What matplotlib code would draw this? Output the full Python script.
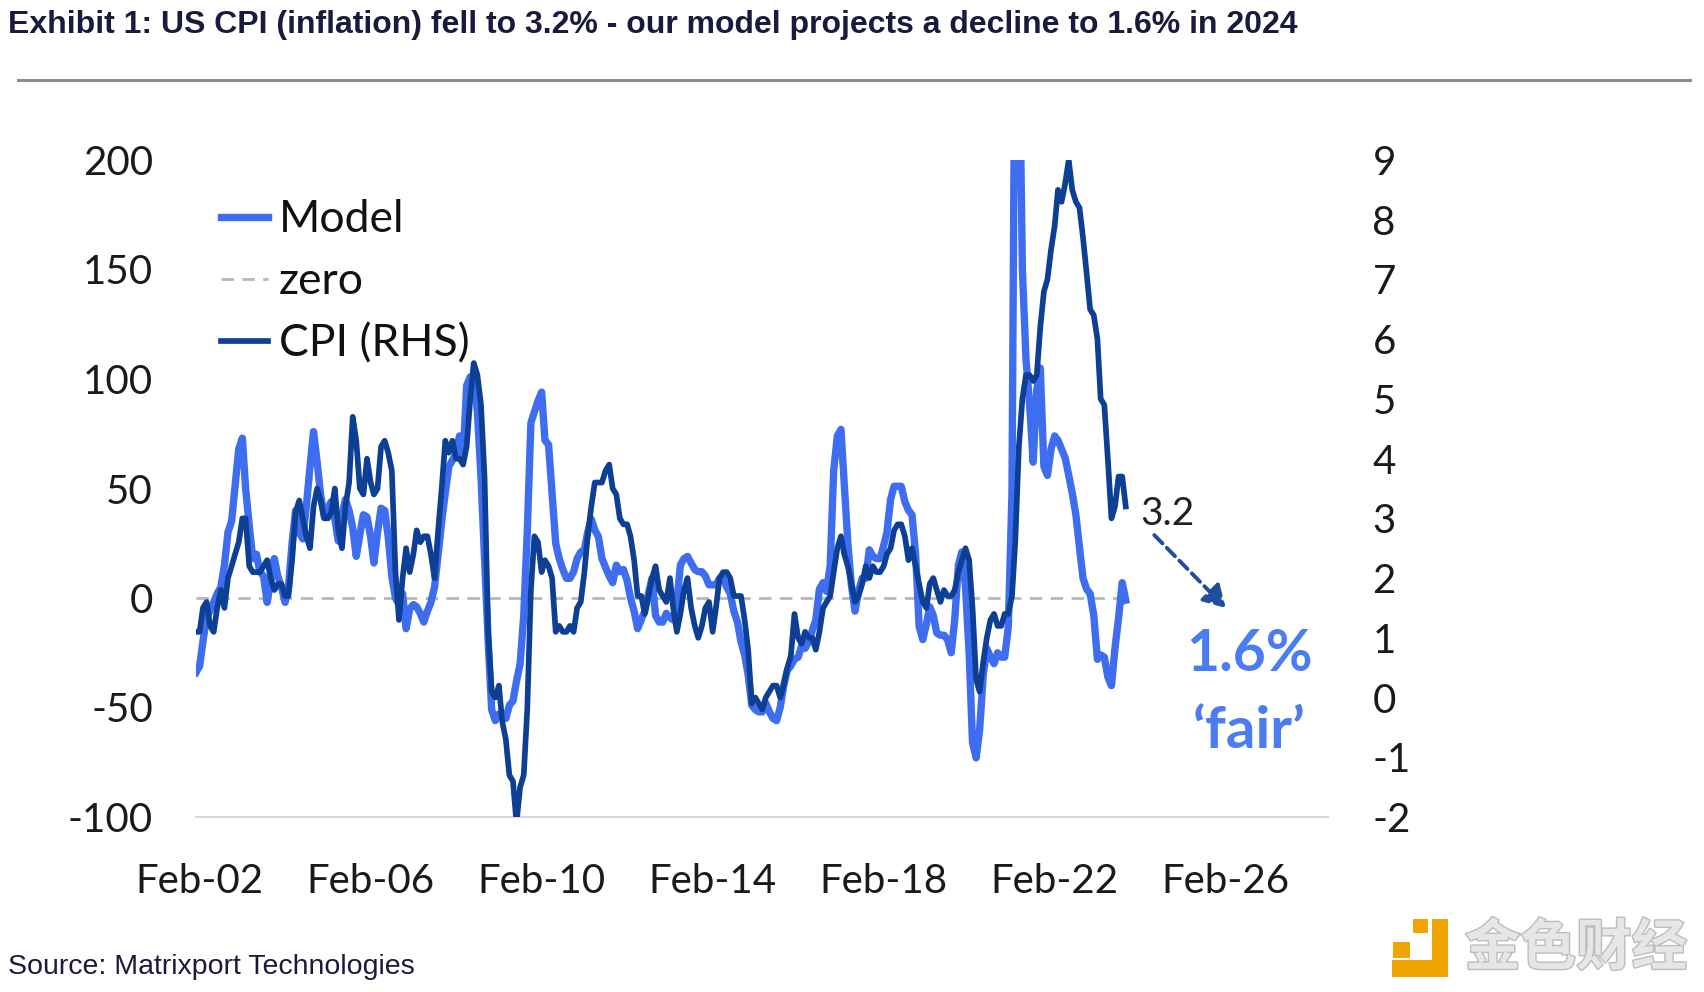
import matplotlib
matplotlib.use("Agg")
import matplotlib.pyplot as plt
import matplotlib.dates as mdates
import matplotlib.patheffects as pe
from matplotlib.patches import Rectangle
import pandas as pd
import datetime as dt

plt.rcParams["axes.unicode_minus"] = False

# ---------------- data (monthly, Jan-2002 .. Oct-2023) ----------------
start_month = "2002-01-01"

cpi = [
    1.1, 1.1, 1.5, 1.6, 1.2, 1.1, 1.5, 1.8, 1.5, 2.0, 2.2, 2.4,
    2.6, 3.0, 3.0, 2.2, 2.1, 2.1, 2.1, 2.2, 2.3, 2.0, 1.8, 1.9,
    1.9, 1.7, 1.7, 2.3, 3.1, 3.3, 3.0, 2.7, 2.5, 3.2, 3.5, 3.3,
    3.0, 3.0, 3.1, 3.5, 2.8, 2.5, 3.2, 3.6, 4.7, 4.3, 3.5, 3.4,
    4.0, 3.6, 3.4, 3.5, 4.2, 4.3, 4.1, 3.8, 2.1, 1.3, 2.0, 2.5,
    2.1, 2.4, 2.8, 2.6, 2.7, 2.7, 2.4, 2.0, 2.8, 3.5, 4.3, 4.1,
    4.3, 4.0, 4.0, 3.9, 4.2, 5.0, 5.6, 5.4, 4.9, 3.7, 1.1, 0.1,
    0.0, 0.2, -0.4, -0.7, -1.3, -1.4, -2.1, -1.5, -1.3, -0.2, 1.8, 2.7,
    2.6, 2.1, 2.3, 2.2, 2.0, 1.1, 1.2, 1.1, 1.1, 1.2, 1.1, 1.5,
    1.6, 2.1, 2.7, 3.2, 3.6, 3.6, 3.6, 3.8, 3.9, 3.5, 3.4, 3.0,
    2.9, 2.9, 2.7, 2.3, 1.7, 1.7, 1.4, 1.7, 2.0, 2.2, 1.8, 1.7,
    1.6, 2.0, 1.5, 1.1, 1.4, 1.8, 2.0, 1.5, 1.2, 1.0, 1.2, 1.5,
    1.6, 1.1, 1.5, 2.0, 2.1, 2.1, 2.0, 1.7, 1.7, 1.7, 1.3, 0.8,
    -0.1, 0.0, -0.1, -0.2, 0.0, 0.1, 0.2, 0.2, 0.0, 0.2, 0.5, 0.7,
    1.4, 1.0, 0.9, 1.1, 1.0, 1.0, 0.8, 1.1, 1.5, 1.6, 1.7, 2.1,
    2.5, 2.7, 2.4, 2.2, 1.9, 1.6, 1.7, 1.9, 2.2, 2.0, 2.2, 2.1,
    2.1, 2.2, 2.4, 2.5, 2.8, 2.9, 2.9, 2.7, 2.3, 2.5, 2.2, 1.9,
    1.6, 1.5, 1.9, 2.0, 1.8, 1.6, 1.8, 1.7, 1.7, 1.8, 2.1, 2.3,
    2.5, 2.3, 1.5, 0.3, 0.1, 0.6, 1.0, 1.3, 1.4, 1.2, 1.2, 1.4,
    1.4, 1.7, 2.6, 4.2, 5.0, 5.4, 5.4, 5.3, 5.4, 6.2, 6.8, 7.0,
    7.5, 7.9, 8.5, 8.3, 8.6, 9.0, 8.5, 8.3, 8.2, 7.7, 7.1, 6.5,
    6.4, 6.0, 5.0, 4.9, 4.0, 3.0, 3.2, 3.7, 3.7, 3.2,
]

model = [
    -34, -31, -20, -9, -6, -2, 2, 5, 15, 30, 35, 51,
    68, 73, 50, 33, 18, 20, 12, 10, -2, 8, 18, 10,
    5, -2, 5, 25, 40, 30, 27, 42, 60, 76, 62, 47,
    37, 41, 44, 36, 26, 38, 45, 40, 32, 19, 29, 38,
    37, 28, 16, 30, 41, 40, 28, 10, 0, -3, 2, -14,
    -5, -3, -4, -7, -11, -6, -2, 5, 20, 35, 48, 60,
    63, 66, 74, 64, 97, 101, 100, 85, 55, 18, -20, -51,
    -56, -53, -54, -55, -49, -47, -38, -30, -8, 30, 80, 85,
    90, 94, 72, 70, 48, 25, 18, 13, 9, 9, 12, 18,
    21, 22, 30, 36, 31, 28, 18, 14, 10, 7, 15, 12,
    13, 8, 0, -6, -14, -10, -6, 2, 9, -8, -11, -11,
    -7, -9, -10, -2, 15, 18, 19, 16, 13, 12, 12, 10,
    6, 6, 6, 9, 9, 5, 2, -6, -11, -20, -26, -35,
    -49, -51, -52, -52, -48, -52, -55, -56, -50, -40, -33, -31,
    -28, -27, -22, -23, -20, -15, -10, 4, 7, 3, 15, 58,
    74, 77, 52, 25, 6, -6, 3, 9, 9, 22, 19, 18,
    18, 24, 30, 45, 51, 51, 51, 44, 40, 38, 20, -13,
    -19, -12, -4, -8, -16, -17, -17, -19, -25, -10, 15, 21,
    5, -25, -66, -73, -60, -35, -23, -27, -30, -25, -27, -27,
    -13, 48, 290, 270, 150, 109, 89, 62, 95, 105, 60, 56,
    68, 74, 72, 68, 64, 56, 48, 38, 23, 9, 4, 2,
    -8, -28, -26, -27, -36, -40, -23, -9, 7, -1,
]

zero = [0] * len(model)

left_ticks = [-100, -50, 0, 50, 100, 150, 200]
right_ticks = [-2, -1, 0, 1, 2, 3, 4, 5, 6, 7, 8, 9]
x_tick_years = [2002, 2006, 2010, 2014, 2018, 2022, 2026]

dates = pd.date_range(start_month, periods=len(model), freq="MS")

# ---------------- styling ----------------
C_MODEL = "#3f6df0"
C_CPI = "#0d3f94"
C_ZERO = "#b8b8b8"
C_TITLE = "#1a1a3e"
TICK_FONT = "Lato"

W, H = 1704, 992
fig = plt.figure(figsize=(W / 100, H / 100), dpi=100)
fig.patch.set_facecolor("white")

ax_l, ax_r, ax_t, ax_b = 196, 1328, 160, 817
ax = fig.add_axes([ax_l / W, 1 - ax_b / H, (ax_r - ax_l) / W, (ax_b - ax_t) / H])
ax2 = ax.twinx()

l_model, = ax.plot(dates, model, color=C_MODEL, lw=5.3, solid_joinstyle="round",
                   label="Model", zorder=3)
l_zero, = ax.plot(dates, zero, color=C_ZERO, lw=2.0, dashes=(4.5, 3), label="zero", zorder=2)
l_cpi, = ax2.plot(dates, cpi, color=C_CPI, lw=4.1, solid_joinstyle="round",
                  label="CPI (RHS)", zorder=3)

ax.set_ylim(-100, 200)
ax2.set_ylim(-2, 9)
ax.set_xlim(dt.datetime(2002, 1, 1), dt.datetime(2028, 6, 24))

ax.set_yticks(left_ticks)
ax2.set_yticks(right_ticks)
ax.set_xticks([dt.datetime(y, 2, 1) for y in x_tick_years])
ax.xaxis.set_major_formatter(mdates.DateFormatter("%b-%y"))

for a in (ax, ax2):
    for s in a.spines.values():
        s.set_visible(False)
    a.tick_params(length=0, labelsize=29, labelcolor="#1a1a1a")
ax.spines["bottom"].set_visible(True)
ax.spines["bottom"].set_color("#d9d9d9")
ax.spines["bottom"].set_linewidth(1.5)
ax.tick_params(axis="x", pad=33)
ax.tick_params(axis="y", pad=31)
ax2.tick_params(axis="y", pad=32)
for lab in ax.get_xticklabels() + ax.get_yticklabels() + ax2.get_yticklabels():
    lab.set_fontfamily(TICK_FONT)

leg = ax2.legend(handles=[l_model, l_zero, l_cpi], loc="upper left",
                 bbox_to_anchor=(0.022, 0.94), frameon=False,
                 prop={"family": TICK_FONT, "size": 32}, handlelength=1.05,
                 handletextpad=0.25, labelspacing=0.47, borderpad=0, borderaxespad=0)
for t in leg.get_texts():
    t.set_color("#111111")

# annotations
ax2.text(dt.datetime(2024, 2, 1), 3.08, "3.2", fontfamily=TICK_FONT, fontsize=28,
         color="#222222", ha="left", va="center")
ax2.annotate("", xy=(dt.datetime(2026, 2, 1), 1.5), xytext=(dt.datetime(2024, 6, 1), 2.72),
             arrowprops=dict(arrowstyle="-|>,head_length=0.6,head_width=0.35",
                             color="#1f4ea0", lw=2.8, linestyle=(0, (3, 1.6)),
                             mutation_scale=22, shrinkA=0, shrinkB=0))
ax2.text(dt.datetime(2026, 8, 20), 0.72, "1.6%", fontfamily=TICK_FONT, fontweight="bold",
         fontsize=41, color="#4a7cf2", ha="center", va="center")
ax2.text(dt.datetime(2026, 8, 20), -0.57, "\u2018fair\u2019", fontfamily=TICK_FONT,
         fontweight="bold", fontsize=42, color="#4a7cf2", ha="center", va="center")

# title, rule, source
fig.text(8 / W, 1 - 25 / H,
         "Exhibit 1: US CPI (inflation) fell to 3.2% - our model projects a decline to 1.6% in 2024",
         fontfamily="Liberation Sans", fontweight="bold", fontsize=23, color=C_TITLE,
         ha="left", va="center")
fig.add_artist(plt.Line2D([18 / W, 1690 / W], [1 - 80 / H, 1 - 80 / H],
                          color="#8c8c8c", lw=2.2, transform=fig.transFigure))
fig.text(8 / W, 1 - 967 / H, "Source: Matrixport Technologies", fontfamily="Liberation Sans",
         fontsize=20.5, color=C_TITLE, ha="left", va="center")

# watermark logo
ORANGE = "#f0a500"
def rect(x0, y0, x1, y1):
    fig.add_artist(Rectangle((x0 / W, 1 - y1 / H), (x1 - x0) / W, (y1 - y0) / H,
                             transform=fig.transFigure, color=ORANGE, lw=0))
rect(1393, 942, 1410, 958)
rect(1413, 919, 1428, 933)
rect(1432, 919, 1448, 977)
rect(1392, 960, 1448, 977)
fig.text(1465 / W, 1 - 949 / H, "金色财经", fontfamily="Noto Sans CJK SC", fontweight="bold",
         fontsize=40, color="#e6e6e6", ha="left", va="center",
         path_effects=[pe.withStroke(linewidth=2, foreground="#bdbdbd")])

fig.savefig("out.png", dpi=100, facecolor="white")
